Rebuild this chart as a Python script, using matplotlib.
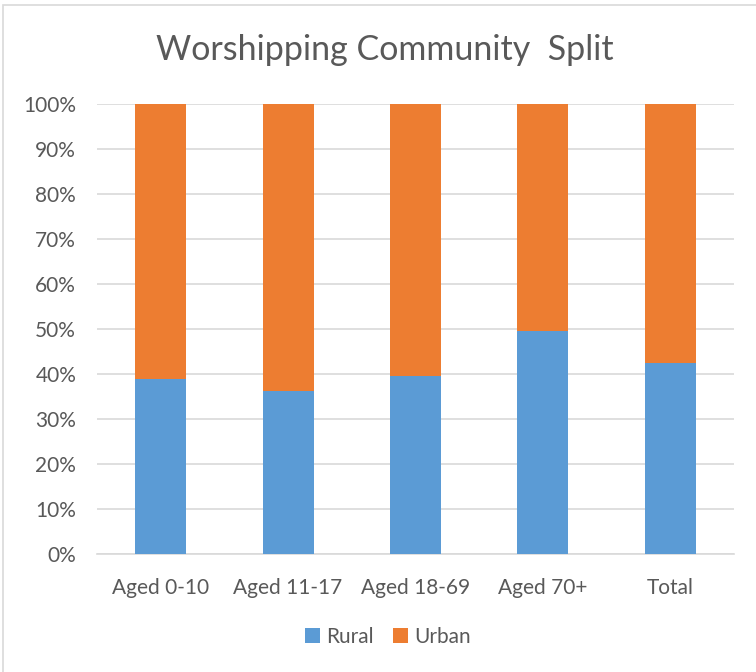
import matplotlib.pyplot as plt
import numpy as np
from matplotlib.patches import Rectangle

categories = ['Aged 0-10', 'Aged 11-17', 'Aged 18-69', 'Aged 70+', 'Total']
rural = [38.8, 36.2, 39.5, 49.5, 42.4]
urban = [100 - r for r in rural]

BLUE = '#5B9BD5'
ORANGE = '#ED7D31'
TEXT = '#595959'

plt.rcParams['font.family'] = ['Lato', 'DejaVu Sans']

fig = plt.figure(figsize=(7.56, 6.72), dpi=100)
fig.patches.append(Rectangle((3 / 756, -0.01), 1.01, (672 - 5) / 672 + 0.01,
                             transform=fig.transFigure, fill=False,
                             edgecolor='#D9D9D9', linewidth=1.2))

ax = fig.add_axes([97 / 756, (672 - 554) / 672, 637 / 756, 450 / 672])
x = np.arange(len(categories))
ax.bar(x, rural, width=0.4, color=BLUE, label='Rural', zorder=3)
ax.bar(x, urban, width=0.4, bottom=rural, color=ORANGE, label='Urban', zorder=3)

ax.set_xlim(-0.5, len(categories) - 0.5)
ax.set_ylim(0, 100)
ax.set_yticks(range(0, 101, 10))
ax.set_yticklabels([f'{v}%' for v in range(0, 101, 10)])
ax.set_xticks(x)
ax.set_xticklabels(categories)
ax.yaxis.grid(True, color='#D9D9D9', linewidth=1.2, zorder=0)
ax.tick_params(axis='both', length=0, labelsize=15, colors=TEXT)
ax.tick_params(axis='x', pad=17)
ax.tick_params(axis='y', pad=15)
for s in ['top', 'right', 'left']:
    ax.spines[s].set_visible(False)
ax.spines['bottom'].set_color('#D9D9D9')
ax.spines['bottom'].set_linewidth(1.2)

fig.text(385 / 756, 1 - 50 / 672, 'Worshipping Community  Split', ha='center',
         va='center', fontsize=24.5, color=TEXT)

fig.legend(loc='center', bbox_to_anchor=(388 / 756, 1 - 637 / 672), ncol=2,
           frameon=False, fontsize=15, labelcolor=TEXT, handlelength=0.75,
           handleheight=0.75, handletextpad=0.3, columnspacing=0.9)

plt.savefig('out.png', dpi=100)
